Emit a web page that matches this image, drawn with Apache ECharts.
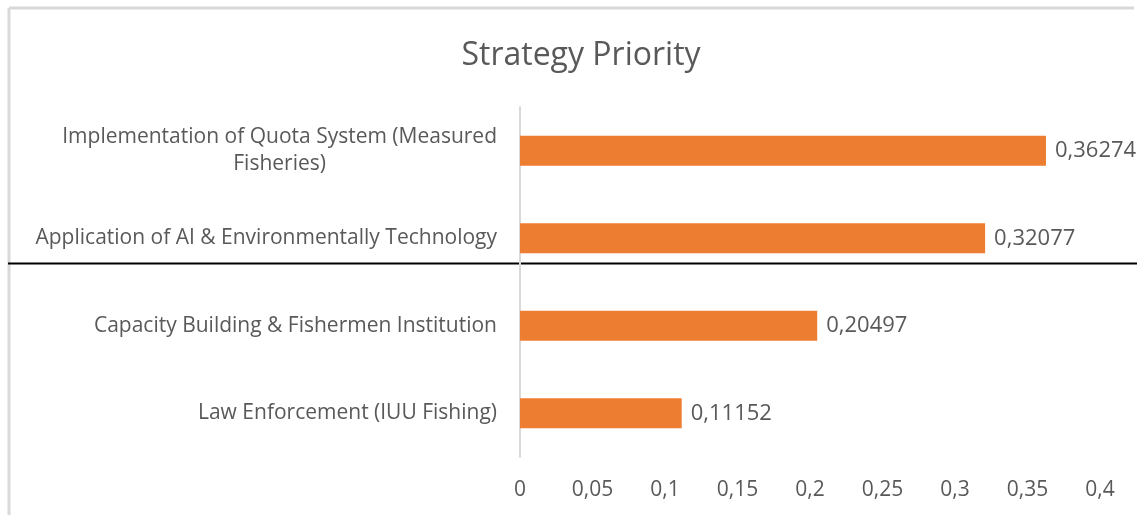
<!DOCTYPE html>
<html><head><meta charset="utf-8">
<script src="https://cdn.jsdelivr.net/npm/echarts@6/dist/echarts.min.js"></script>
<style>html,body{margin:0;padding:0;background:#fff}#c{width:1137px;height:515px}</style>
</head><body><div id="c"></div>
<script>
const categories = [
  'Implementation of Quota System (Measured\nFisheries)',
  'Application of AI & Environmentally Technology',
  'Capacity Building & Fishermen Institution',
  'Law Enforcement (IUU Fishing)'
];
const values = [0.36274, 0.32077, 0.20497, 0.11152];
const valueLabels = ['0,36274', '0,32077', '0,20497', '0,11152'];
const xTicks = ['0','0,05','0,1','0,15','0,2','0,25','0,3','0,35','0,4'];

const chart = echarts.init(document.getElementById('c'));
const FONT = '"Open Sans", sans-serif';
chart.setOption({
  animation: false,
  backgroundColor: '#fff',
  title: {
    text: 'Strategy Priority',
    left: 576, top: 35, textAlign: 'center',
    textStyle: { fontFamily: FONT, fontSize: 32, fontWeight: 'normal', color: '#595959' }
  },
  grid: { left: 520, width: 580, top: 107, height: 350, containLabel: false },
  xAxis: {
    type: 'value', min: 0, max: 0.4, interval: 0.05,
    axisLine: { show: false }, axisTick: { show: false }, splitLine: { show: false },
    axisLabel: {
      margin: 23, fontFamily: FONT, fontSize: 21, color: '#595959',
      formatter: function (v) { return xTicks[Math.round(v / 0.05)]; }
    }
  },
  yAxis: {
    type: 'category', inverse: true, data: categories,
    axisLine: { show: true, lineStyle: { color: '#d9d9d9', width: 2 } },
    axisTick: { show: false },
    axisLabel: {
      margin: 23, fontFamily: FONT, fontSize: 21, color: '#595959', align: 'right',
      formatter: function (v) { return v.split('\n').map(s => '{c|' + s + '}').join('\n'); },
      rich: { c: { align: 'center', fontFamily: FONT, fontSize: 21, color: '#595959', lineHeight: 27 } }
    }
  },
  series: [{
    type: 'bar', data: values, barWidth: 30,
    itemStyle: { color: '#ed7d31' },
    label: {
      show: true, position: 'right', distance: 9,
      fontFamily: FONT, fontSize: 22, color: '#595959',
      formatter: function (p) { return valueLabels[p.dataIndex]; }
    }
  }],
  graphic: [
    { type: 'line', shape: { x1: 9, y1: 8, x2: 1134, y2: 8 }, style: { stroke: '#d9d9d9', lineWidth: 3 } },
    { type: 'line', shape: { x1: 9, y1: 8, x2: 9, y2: 515 }, style: { stroke: '#d9d9d9', lineWidth: 3 } },
    { type: 'line', shape: { x1: 8, y1: 263.5, x2: 1137, y2: 263.5 }, style: { stroke: '#000', lineWidth: 2 } }
  ]
});
</script></body></html>
